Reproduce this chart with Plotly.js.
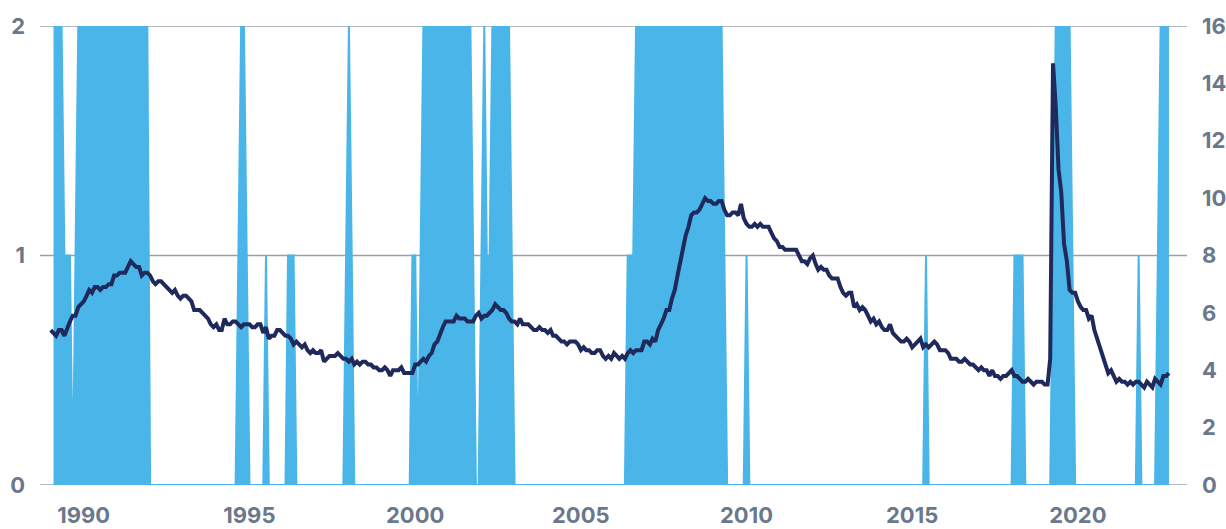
<!DOCTYPE html>
<html>
<head>
<meta charset="utf-8">
<script src="https://cdn.plot.ly/plotly-3.0.1.min.js"></script>
<style>
  html, body { margin: 0; padding: 0; background: #ffffff; }
  #chart { width: 1226px; height: 529px; }
</style>
</head>
<body>
<div id="chart"></div>
<script>
// Monthly line series (right axis), starting January 1990
const lineStartYear = 1990;
const unemploymentRate = [
  5.4,5.3,5.2,5.4,5.4,5.2,5.5,5.7,5.9,5.9,6.2,6.3,
  6.4,6.6,6.8,6.7,6.9,6.9,6.8,6.9,6.9,7.0,7.0,7.3,
  7.3,7.4,7.4,7.4,7.6,7.8,7.7,7.6,7.6,7.3,7.4,7.4,
  7.3,7.1,7.0,7.1,7.1,7.0,6.9,6.8,6.7,6.8,6.6,6.5,
  6.6,6.6,6.5,6.4,6.1,6.1,6.1,6.0,5.9,5.8,5.6,5.5,
  5.6,5.4,5.4,5.8,5.6,5.6,5.7,5.7,5.6,5.5,5.6,5.6,
  5.6,5.5,5.5,5.6,5.6,5.3,5.5,5.1,5.2,5.2,5.4,5.4,
  5.3,5.2,5.2,5.1,4.9,5.0,4.9,4.8,4.9,4.7,4.6,4.7,
  4.6,4.6,4.7,4.3,4.4,4.5,4.5,4.5,4.6,4.5,4.4,4.4,
  4.3,4.4,4.2,4.3,4.2,4.3,4.3,4.2,4.2,4.1,4.1,4.0,
  4.0,4.1,4.0,3.8,4.0,4.0,4.0,4.1,3.9,3.9,3.9,3.9,
  4.2,4.2,4.3,4.4,4.3,4.5,4.6,4.9,5.0,5.3,5.5,5.7,
  5.7,5.7,5.7,5.9,5.8,5.8,5.8,5.7,5.7,5.7,5.9,6.0,
  5.8,5.9,5.9,6.0,6.1,6.3,6.2,6.1,6.1,6.0,5.8,5.7,
  5.7,5.6,5.8,5.6,5.6,5.6,5.5,5.4,5.4,5.5,5.4,5.4,
  5.3,5.4,5.2,5.2,5.1,5.0,5.0,4.9,5.0,5.0,5.0,4.9,
  4.7,4.8,4.7,4.7,4.6,4.6,4.7,4.7,4.5,4.4,4.5,4.4,
  4.6,4.5,4.4,4.5,4.4,4.6,4.7,4.6,4.7,4.7,4.7,5.0,
  5.0,4.9,5.1,5.0,5.4,5.6,5.8,6.1,6.1,6.5,6.8,7.3,
  7.8,8.3,8.7,9.0,9.4,9.5,9.5,9.6,9.8,10.0,9.9,9.9,
  9.8,9.8,9.9,9.9,9.6,9.4,9.4,9.5,9.5,9.4,9.8,9.3,
  9.1,9.0,9.0,9.1,9.0,9.1,9.0,9.0,9.0,8.8,8.6,8.5,
  8.3,8.3,8.2,8.2,8.2,8.2,8.2,8.0,7.8,7.8,7.7,7.9,
  8.0,7.7,7.5,7.6,7.5,7.5,7.3,7.2,7.2,7.2,6.9,6.7,
  6.6,6.7,6.7,6.2,6.3,6.1,6.2,6.1,5.9,5.7,5.8,5.6,
  5.7,5.5,5.4,5.4,5.6,5.3,5.2,5.1,5.0,5.0,5.1,5.0,
  4.8,4.9,5.0,5.1,4.8,4.9,4.8,4.9,5.0,4.9,4.7,4.7,
  4.7,4.6,4.4,4.4,4.4,4.3,4.3,4.4,4.3,4.2,4.2,4.1,
  4.0,4.1,4.0,4.0,3.8,4.0,3.8,3.8,3.7,3.8,3.8,3.9,
  4.0,3.8,3.8,3.7,3.6,3.6,3.7,3.6,3.5,3.6,3.6,3.6,
  3.5,3.5,4.4,14.7,13.2,11.0,10.2,8.4,7.8,6.8,6.7,6.7,
  6.4,6.2,6.1,6.1,5.8,5.9,5.4,5.1,4.7,4.5,4.2,3.9,
  4.0,3.8,3.6,3.7,3.6,3.6,3.5,3.6,3.5,3.6,3.6,3.5,
  3.4,3.6,3.5,3.4,3.7,3.6,3.5,3.8,3.8,3.9
];

// Blue area series (left axis, 0/1/2), breakpoints by month
const blueDates = [
  '1990-02','1990-05','1990-06','1990-08','1990-09','1990-10','1990-11','1992-12','1993-01',
  '1995-08','1995-09','1995-10','1995-11','1995-12','1996-01',
  '1996-06','1996-07','1996-08',
  '1997-02','1997-03','1997-05','1997-06',
  '1998-11','1998-12','1999-01','1999-02','1999-03',
  '2000-11','2000-12','2001-01','2001-02','2001-03','2001-04','2002-09','2002-10','2002-11',
  '2002-12','2003-01','2003-02','2003-03','2003-04','2003-05','2003-11','2003-12','2004-01',
  '2007-05','2007-06','2007-08','2007-09','2010-04','2010-05','2010-06',
  '2010-12','2011-01','2011-02',
  '2016-05','2016-06','2016-07',
  '2019-01','2019-02','2019-05','2019-06',
  '2020-03','2020-04','2020-05','2020-10','2020-11','2020-12',
  '2022-10','2022-11','2022-12',
  '2023-05','2023-06','2023-07','2023-10'
];
const blueValues = [
  2,2,1,1,0,1,2,2,0,
  0,1,2,2,1,0,
  0,1,0,
  0,1,1,0,
  0,1,2,1,0,
  0,1,1,0,1,2,2,1,0,
  0,1,2,1,1,2,2,1,0,
  0,1,1,2,2,1,0,
  0,1,0,
  0,1,0,
  0,1,1,0,
  0,1,2,2,1,0,
  0,1,0,
  0,1,2,2
];

const tickYears = [1990, 1995, 2000, 2005, 2010, 2015, 2020];
const leftTicks = [0, 1, 2];
const rightTicks = [0, 2, 4, 6, 8, 10, 12, 14, 16];

const lineDates = unemploymentRate.map((v, i) => {
  const y = lineStartYear + Math.floor(i / 12);
  const m = (i % 12) + 1;
  return y + '-' + String(m).padStart(2, '0') + '-01';
});

const labelFont = { family: 'Inter, "Open Sans", sans-serif', size: 22, color: '#6b788c', weight: 700 };
const gridColor = '#97a1ad';

const traces = [
  {
    type: 'scatter', mode: 'lines',
    x: blueDates, y: blueValues,
    fill: 'tozeroy', fillcolor: '#4AB5E8',
    line: { color: '#4AB5E8', width: 2 },
    yaxis: 'y', hoverinfo: 'skip', showlegend: false
  },
  {
    type: 'scatter', mode: 'lines',
    x: lineDates, y: unemploymentRate,
    line: { color: '#20295B', width: 4, shape: 'linear' },
    yaxis: 'y2', showlegend: false
  }
];

// horizontal reference lines at the left-axis tick values (drawn beneath the data)
const gridShapes = leftTicks.map(v => ({
  type: 'line', layer: 'below',
  xref: 'paper', x0: 0, x1: 1,
  yref: 'y', y0: v, y1: v,
  line: { color: gridColor, width: 1.5 }
}));

const layout = {
  width: 1226, height: 529,
  margin: { l: 40, r: 39, t: 26, b: 44 },
  paper_bgcolor: '#ffffff', plot_bgcolor: '#ffffff',
  showlegend: false,
  shapes: gridShapes,
  xaxis: {
    type: 'date',
    range: ['1989-09-05', '2024-04-17'],
    tickmode: 'array',
    tickvals: tickYears.map(y => y + '-12-31'),
    ticktext: tickYears.map(String),
    showgrid: false, zeroline: false, showline: false,
    ticks: '', ticklabelstandoff: 15,
    tickfont: labelFont
  },
  yaxis: {
    range: [0, 2],
    tickmode: 'array', tickvals: leftTicks, ticktext: leftTicks.map(String),
    showgrid: false,
    zeroline: false, showline: false, ticks: '',
    ticklabelstandoff: 14,
    tickfont: labelFont
  },
  yaxis2: {
    overlaying: 'y', side: 'right',
    range: [0, 16],
    tickmode: 'array', tickvals: rightTicks, ticktext: rightTicks.map(String),
    showgrid: false, zeroline: false, showline: false, ticks: '',
    ticklabelstandoff: 14,
    tickfont: labelFont
  }
};

Plotly.newPlot('chart', traces, layout, { staticPlot: true, displayModeBar: false });
</script>
</body>
</html>
